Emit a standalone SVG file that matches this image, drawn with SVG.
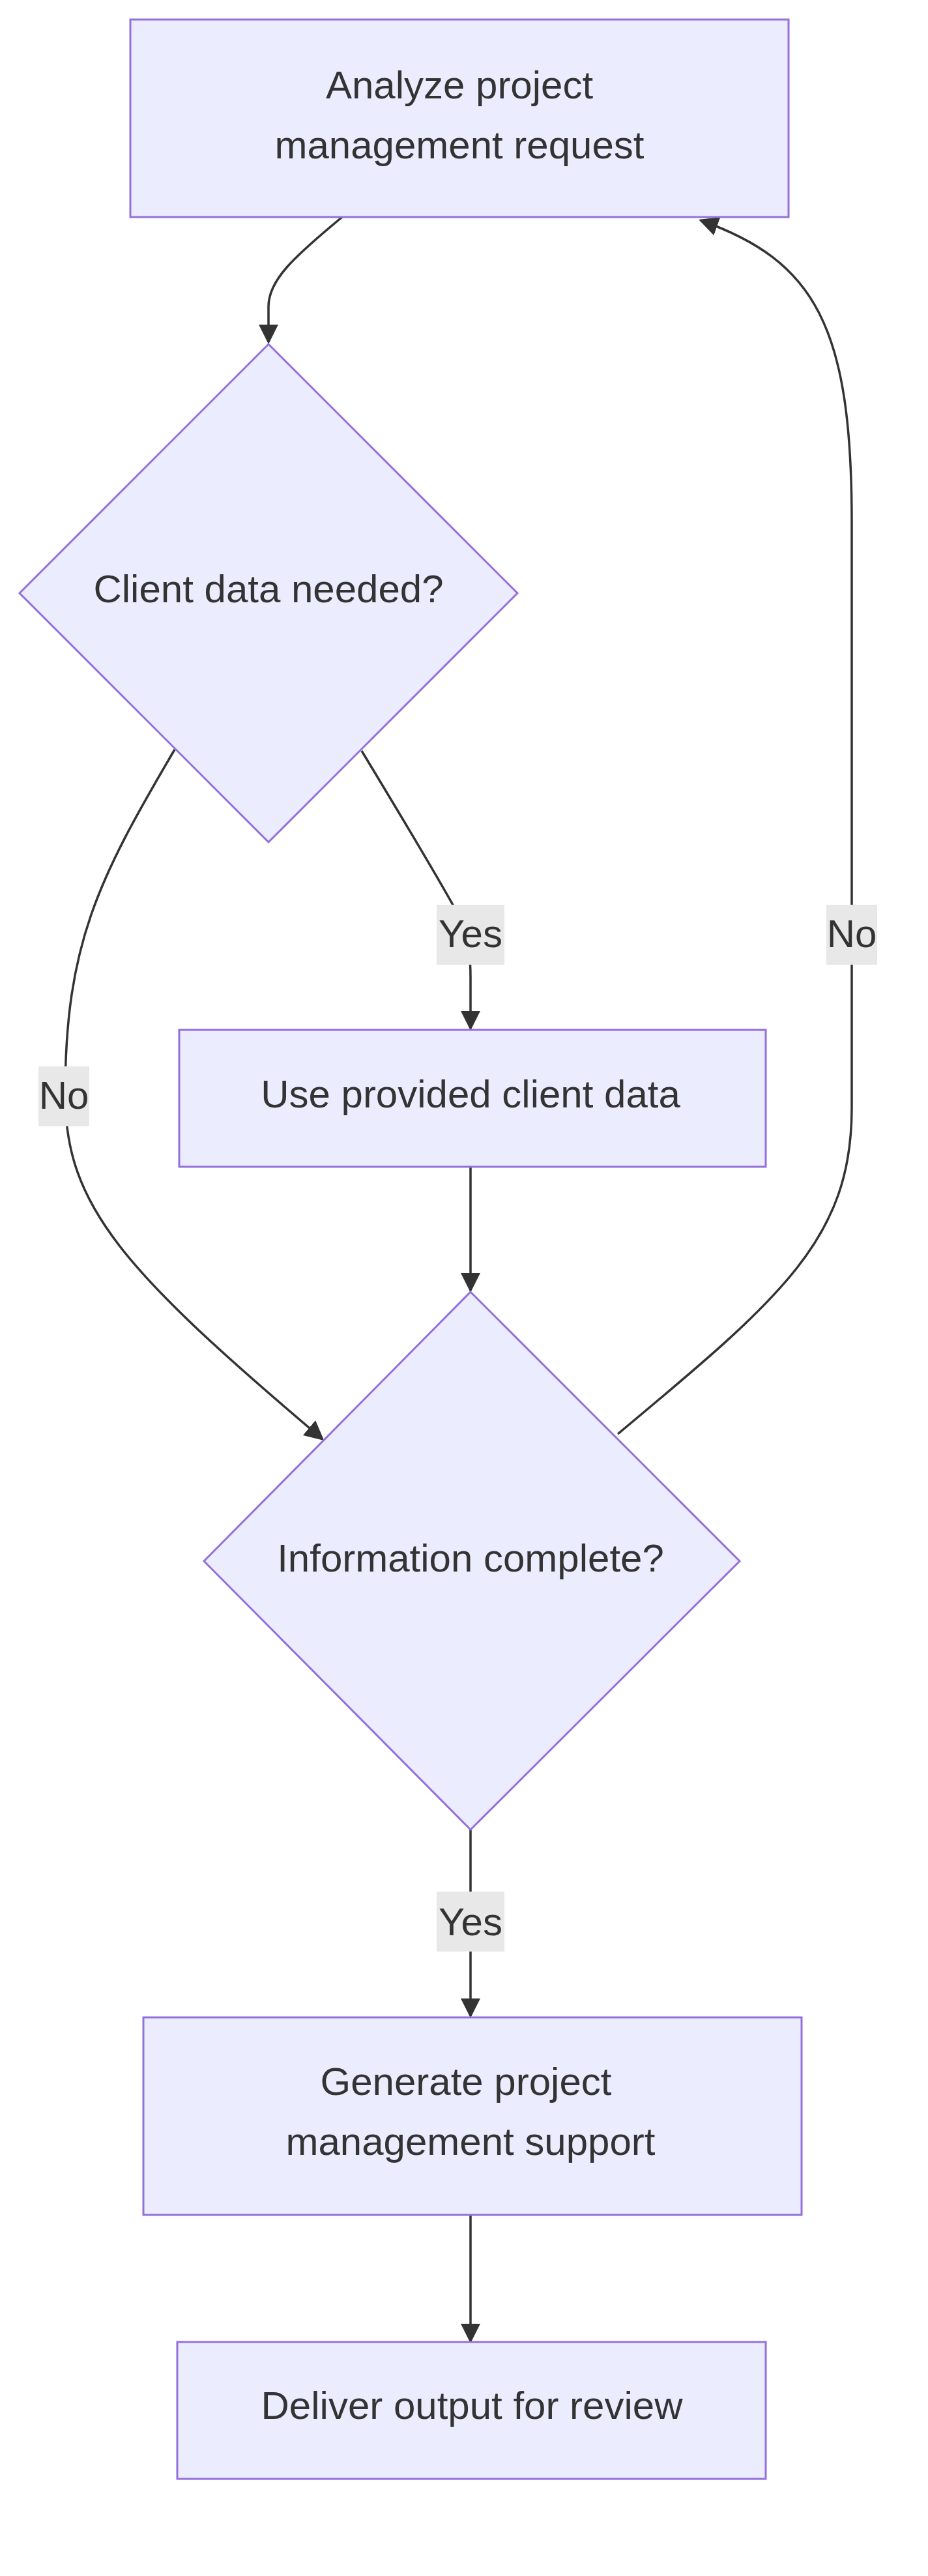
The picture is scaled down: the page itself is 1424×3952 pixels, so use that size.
<svg xmlns="http://www.w3.org/2000/svg" width="1424" height="3952" viewBox="0 0 1424 3952">
<style>
.n{fill:#ECECFF;stroke:#9370DB;stroke-width:3}
.t{font-family:"Liberation Sans",Arial,sans-serif;font-size:60px;fill:#333;text-anchor:middle;dominant-baseline:central}
.e{fill:none;stroke:#333;stroke-width:3.5}
.lb{fill:#e8e8e8}
</style>
<defs><marker id="a" viewBox="0 0 10 10" refX="9" refY="5" markerWidth="9" markerHeight="9" markerUnits="userSpaceOnUse" orient="auto"><path d="M0,0L10,5L0,10z" fill="#333"/></marker>
<marker id="b" viewBox="0 0 10 10" refX="9" refY="5" markerWidth="30" markerHeight="30" markerUnits="userSpaceOnUse" orient="auto"><path d="M0,0L10,5L0,10z" fill="#333"/></marker></defs>
<g id="edges">
<path class="e" d="M525,333 C450,395 412,430 412,470 L412,525" marker-end="url(#b)"/>
<path class="e" d="M555,1152 Q690,1375 712,1420 Q722,1450 722,1500 L722,1578" marker-end="url(#b)"/>
<path class="e" d="M268,1150 C150,1350 100,1450 100,1680 C100,1850 190,1950 495,2208" marker-end="url(#b)"/>
<path class="e" d="M722,1790 L722,1980" marker-end="url(#b)"/>
<path class="e" d="M948,2200 C1200,1990 1307,1900 1307,1700 L1307,800 C1307,500 1250,400 1075,338" marker-end="url(#b)"/>
<path class="e" d="M722,2807 L722,3093" marker-end="url(#b)"/>
<path class="e" d="M722,3398 L722,3592" marker-end="url(#b)"/>
<rect class="lb" x="670" y="1388" width="104" height="92"/><text class="t" x="722" y="1432">Yes</text>
<rect class="lb" x="59" y="1636" width="78" height="92"/><text class="t" x="98" y="1680">No</text>
<rect class="lb" x="1268" y="1388" width="78" height="92"/><text class="t" x="1307" y="1432">No</text>
<rect class="lb" x="670" y="2902" width="104" height="92"/><text class="t" x="722" y="2948">Yes</text>
</g>
<g id="analyze"><rect class="n" x="200" y="30" width="1010" height="303"/><text class="t" x="705" y="130">Analyze project</text><text class="t" x="705" y="222">management request</text></g>
<g id="clientData"><polygon class="n" points="412,528 794,910 412,1292 30,910"/><text class="t" x="412" y="903">Client data needed?</text></g>
<g id="useData"><rect class="n" x="275" y="1580" width="900" height="210"/><text class="t" x="722" y="1678">Use provided client data</text></g>
<g id="complete"><polygon class="n" points="722,1982 1135,2395 722,2807 313,2395"/><text class="t" x="722" y="2390">Information complete?</text></g>
<g id="generate"><rect class="n" x="220" y="3095" width="1010" height="303"/><text class="t" x="715" y="3193">Generate project</text><text class="t" x="722" y="3285">management support</text></g>
<g id="deliver"><rect class="n" x="272" y="3593" width="903" height="210"/><text class="t" x="724" y="3690">Deliver output for review</text></g>
</svg>
